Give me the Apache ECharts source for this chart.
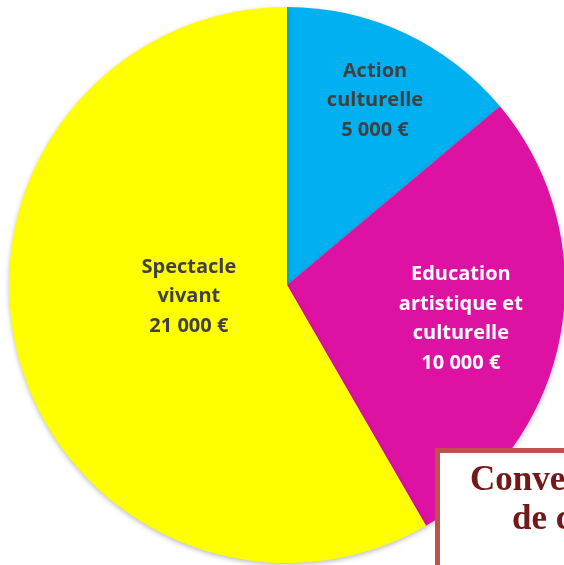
<!DOCTYPE html>
<html>
<head>
<meta charset="utf-8">
<script src="https://cdn.jsdelivr.net/npm/echarts@6/dist/echarts.min.js"></script>
<style>
  html, body { margin: 0; padding: 0; background: #fff; }
  #main { width: 564px; height: 565px; }
</style>
</head>
<body>
<div id="main"></div>
<script>
var categories = ['Action\nculturelle', 'Education\nartistique et\nculturelle', 'Spectacle\nvivant'];
var values = [5000, 10000, 21000];
var colors = ['#00B0F0', '#DE12A2', '#FFFF00'];
var labelColors = ['#404040', '#FFFFFF', '#404040'];
// label nudges so they sit where the original put them
var labelOffsets = [[28, -56], [34, 9], [39, -25]];

function euro(v) {
  return String(v).replace(/\B(?=(\d{3})+(?!\d))/g, ' ') + ' €';
}

var option = {
  animation: false,
  backgroundColor: '#fff',
  series: [
    {
      type: 'pie',
      center: [287, 285],
      radius: 278,
      startAngle: 90,
      clockwise: true,
      silent: true,
      label: {
        show: true,
        position: 'inside',
        formatter: function (p) { return p.name + '\n' + euro(p.value); },
        fontFamily: 'Open Sans',
        fontWeight: 'bold',
        fontSize: 20,
        lineHeight: 29.5,
        align: 'center'
      },
      labelLine: { show: false },
      itemStyle: {
        shadowBlur: 5,
        shadowOffsetY: 2,
        shadowColor: 'rgba(0,0,0,0.25)'
      },
      data: categories.map(function (c, i) {
        return {
          name: c,
          value: values[i],
          itemStyle: { color: colors[i] },
          label: { offset: labelOffsets[i], color: labelColors[i] }
        };
      })
    }
  ],
  graphic: [
    {
      type: 'rect',
      shape: { x: 437.5, y: 450.5, width: 200, height: 200 },
      style: { fill: '#fff', stroke: '#C0504D', lineWidth: 5 },
      z: 100
    },
    {
      type: 'text',
      x: 470, y: 498,
      style: {
        text: 'Convention',
        fill: '#741818',
        font: 'bold 35px "Liberation Serif"',
        verticalAlign: 'bottom'
      },
      z: 101
    },
    {
      type: 'text',
      x: 512, y: 537,
      style: {
        text: 'de c',
        fill: '#741818',
        font: 'bold 35px "Liberation Serif"',
        verticalAlign: 'bottom'
      },
      z: 101
    }
  ]
};

var myChart = echarts.init(document.getElementById('main'));
option && myChart.setOption(option);
</script>
</body>
</html>
